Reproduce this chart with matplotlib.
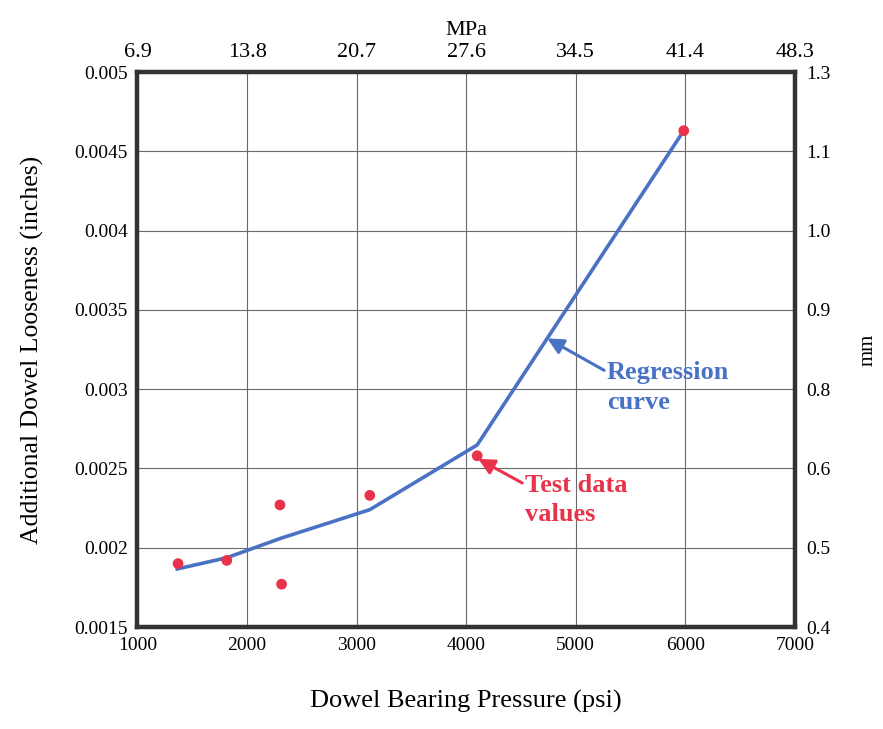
import matplotlib
matplotlib.use("Agg")
import matplotlib.pyplot as plt

plt.rcParams["font.family"] = ["Liberation Serif", "DejaVu Serif"]

# test data
test_psi = [1370, 1815, 2300, 2315, 3120, 4100, 5985]
test_loose = [0.00190, 0.00192, 0.00227, 0.00177, 0.00233, 0.00258, 0.00463]

# regression curve vertices
reg_psi = [1362, 1815, 2310, 3120, 4100, 5985]
reg_loose = [0.001866, 0.001937, 0.00206, 0.00224, 0.002648, 0.00463]

psi_ticks = [1000, 2000, 3000, 4000, 5000, 6000, 7000]
mpa_labels = ["6.9", "13.8", "20.7", "27.6", "34.5", "41.4", "48.3"]
in_ticks = [0.0015, 0.002, 0.0025, 0.003, 0.0035, 0.004, 0.0045, 0.005]
in_labels = ["0.0015", "0.002", "0.0025", "0.003", "0.0035", "0.004", "0.0045", "0.005"]
mm_labels = ["0.4", "0.5", "0.6", "0.8", "0.9", "1.0", "1.1", "1.3"]

blue = "#4a72c4"
red = "#e8334a"

fig = plt.figure(figsize=(8.83, 7.29), dpi=100)
ax = fig.add_axes([0.1557, 0.1399, 0.7446, 0.7613])

ax.set_xlim(1000, 7000)
ax.set_ylim(0.0015, 0.005)
ax.set_xticks(psi_ticks)
ax.set_yticks(in_ticks)
ax.set_yticklabels(in_labels)
ax.grid(True, color="#6a6a6a", lw=0.8)
ax.tick_params(axis="y", length=0, labelsize=14, pad=7)
ax.tick_params(axis="x", length=0, labelsize=14, pad=7)
for s in ax.spines.values():
    s.set_linewidth(3)
    s.set_color("#333333")

ax.plot(reg_psi, reg_loose, color=blue, lw=2.6, zorder=3)
ax.scatter(test_psi, test_loose, s=60, color=red, zorder=4, edgecolors="none")

ax.set_xlabel("Dowel Bearing Pressure (psi)", fontsize=19, labelpad=26)
ax.set_ylabel("Additional Dowel Looseness (inches)", fontsize=18.5, labelpad=22)

# top axis in MPa
top = ax.twiny()
top.set_xlim(ax.get_xlim())
top.set_xticks(psi_ticks)
top.set_xticklabels(mpa_labels)
top.tick_params(length=0, labelsize=16, pad=7)
top.set_xlabel("MPa", fontsize=16, labelpad=6)

# right axis in mm
right = ax.twinx()
right.set_ylim(ax.get_ylim())
right.set_yticks(in_ticks)
right.set_yticklabels(mm_labels)
right.tick_params(length=0, labelsize=14, pad=8)
right.set_ylabel("mm", fontsize=15, rotation=90, labelpad=20)
for a in (top, right):
    for s in a.spines.values():
        s.set_linewidth(3)
        s.set_color("#333333")

ax.annotate("Regression\ncurve", xy=(4740, 0.00332), xytext=(5284, 0.00301),
            color=blue, fontsize=19, fontweight="bold", ha="left", va="center",
            linespacing=1.35,
            arrowprops=dict(arrowstyle="-|>", color=blue, lw=2.2, mutation_scale=24,
                            shrinkA=0, shrinkB=0, relpos=(0, 0.8)))
ax.annotate("Test data\nvalues", xy=(4110, 0.00256), xytext=(4536, 0.00230),
            color=red, fontsize=19, fontweight="bold", ha="left", va="center",
            linespacing=1.35,
            arrowprops=dict(arrowstyle="-|>", color=red, lw=2.2, mutation_scale=24,
                            shrinkA=0, shrinkB=0, relpos=(0, 0.8)))

fig.savefig("out.png", dpi=100)
